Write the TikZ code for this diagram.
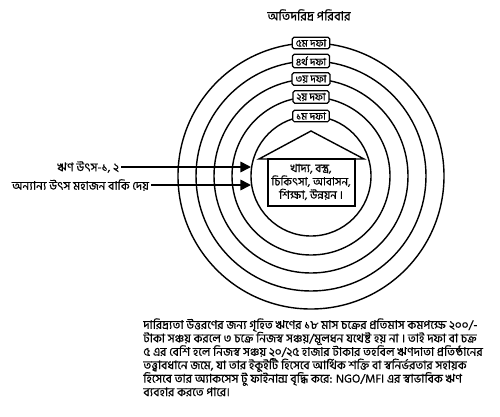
\documentclass[tikz,border=0pt]{standalone}
\usepackage{fontspec}
\newfontfamily\bn[Script=Bengali, FakeBold=0.6]{Hind Siliguri}
\usetikzlibrary{arrows.meta}
\tikzset{
	ring/.style={line width=0.8pt},
	stagebox/.style={draw, line width=0.7pt, rounded corners=1pt, fill=white, inner xsep=2pt, inner ysep=1.2pt, font=\bn\fontsize{5.8}{6}\selectfont},
	feed/.style={line width=0.9pt, -{Triangle[length=6pt,width=6pt]}},
	srclabel/.style={anchor=east, inner sep=1pt, font=\bn\fontsize{6.8}{7}\selectfont},
}

\begin{document}
\begin{tikzpicture}[x=0.02cm, y=-0.02cm]
			%%%%% START %%%%%
			\useasboundingbox (0, 0) rectangle (500, 416);
			
			\node[font=\bn\fontsize{7.2}{8}\selectfont] (title) at (309, 15) {অতিদরিদ্র পরিবার};
			
			% rings, outermost first
			\coordinate (c) at (311, 176);
			\draw[ring] (c) circle [radius=133];
			\draw[ring] (c) circle [radius=115];
			\draw[ring] (c) circle [radius=97];
			\draw[ring] (c) circle [radius=79];
			\draw[ring] (c) circle [radius=60];
			
			\node[stagebox] (d5) at (311, 43) {৫ম দফা};
			\node[stagebox] (d4) at (311, 61) {৪র্থ দফা};
			\node[stagebox] (d3) at (311, 79) {৩য় দফা};
			\node[stagebox] (d2) at (311, 97) {২য় দফা};
			\node[stagebox] (d1) at (311, 116) {১ম দফা};
			
			% house
			\draw[ring] (259, 159) -- (311, 131) -- (364, 159) -- cycle;
			\draw[ring] (268, 159) rectangle (355, 206);
			\node[align=center, font=\bn\fontsize{6.5}{7.6}\selectfont] (needs) at (311, 182) {খাদ্য, বস্ত্র,\\চিকিৎসা, আবাসন,\\শিক্ষা, উন্নয়ন ।};
			
			% sources
			\node[srclabel] (src1) at (121, 167) {ঋণ উৎস-১, ২};
			\node[srclabel] (src2) at (151, 185) {অন্যান্য উৎস মহাজন বাকি দেয়};
			\coordinate (tip1) at (251, 167);
			\coordinate (tip2) at (251, 185);
			\draw[feed] (src1.east) -- (tip1);
			\draw[feed] (src2.east) -- (tip2);
			
			% note below
			\node[anchor=north west, align=left, inner sep=0pt, font=\bn\fontsize{6.8}{7.65}\selectfont] (note) at (143, 318) {%
				দারিদ্র্যতা উত্তরণের জন্য গৃহিত ঋণের ১৮ মাস চক্রের প্রতিমাস কমপক্ষে ২০০/-\\
				টাকা সঞ্চয় করলে ৩ চক্রে নিজস্ব সঞ্চয়/মূলধন যথেষ্ট হয় না । তাই দফা বা চক্র\\
				৫ এর বেশি হলে নিজস্ব সঞ্চয় ২০/২৫ হাজার টাকার তহবিল ঋণদাতা প্রতিষ্ঠানের\\
				তত্ত্বাবধানে জমে, যা তার ইকুইটি হিসেবে আর্থিক শক্তি বা স্বনির্ভরতার সহায়ক\\
				হিসেবে তার অ্যাকসেস টু ফাইনান্স বৃদ্ধি করে: NGO/MFI এর স্বাভাবিক ঋণ\\
				ব্যবহার করতে পারে।};
			
			%%%%% END %%%%%
\end{tikzpicture}
\end{document}
